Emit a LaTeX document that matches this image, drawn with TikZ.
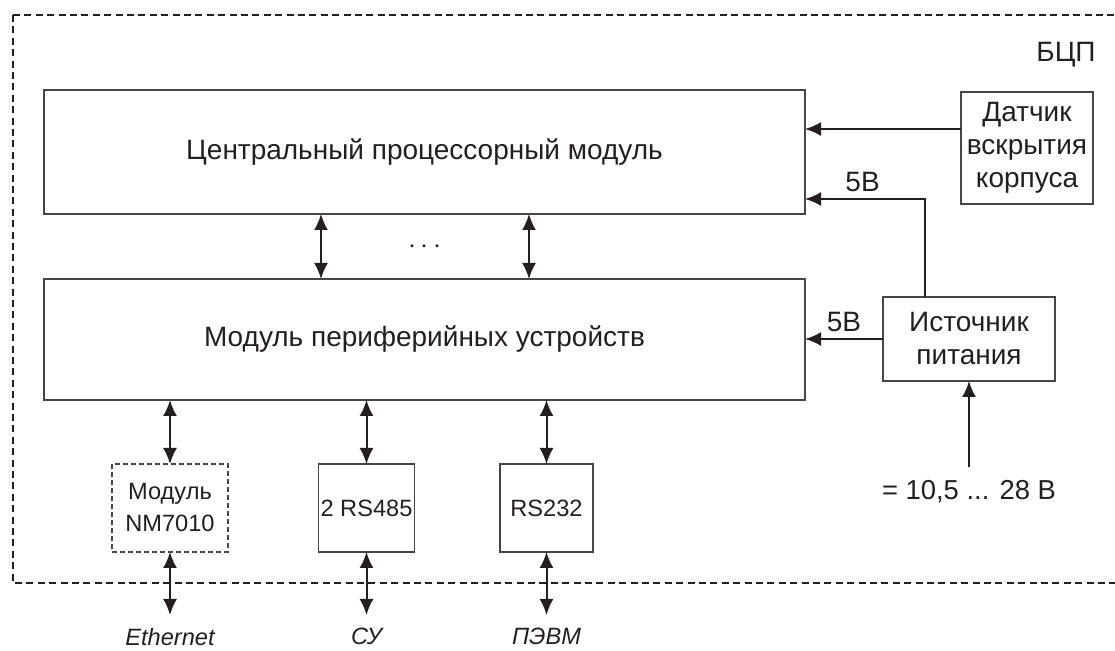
\documentclass[tikz,border=0pt]{standalone}
\usepackage{fontspec}
\setmainfont{Liberation Sans}
\usetikzlibrary{arrows.meta,positioning}
\definecolor{Ink}{RGB}{35,31,32}
\definecolor{Frame}{RGB}{70,70,70}
\newcommand\mainsize{\fontsize{14}{16.5}\selectfont}
\newcommand\portsize{\fontsize{11.8}{16}\selectfont}
\tikzset{
  block/.style={draw=Frame,line width=0.6pt,inner sep=1pt,align=center,outer sep=0pt},
  portblock/.style={block,font=\portsize},
  optblock/.style={portblock,dash pattern=on 2.5pt off 1.5pt},
  flow/.style={-{Latex[length=8pt,width=7pt]},line width=1pt,draw=Ink},
  bus/.style={{Latex[length=8pt,width=7pt]}-{Latex[length=8pt,width=7pt]},line width=1pt,draw=Ink},
  ext/.style={font=\portsize\itshape,inner xsep=0pt,inner ysep=6.5pt},
  border/.style={line width=0.9pt,dash pattern=on 3.5pt off 2.2pt,draw=Ink}
}
\begin{document}
\begin{tikzpicture}[x=0.5pt,y=-0.5pt,font=\mainsize,text=Ink]
\useasboundingbox (0,0) rectangle (1115,651);
\draw[border] (13,15) rectangle (1130,583);
\node (bcp) at (1066,55) {БЦП};
% main modules
\node[block,minimum width=380.5pt,minimum height=62pt] (cpu) at (424.5,152) {Центральный процессорный модуль};
\node[block,minimum width=380.5pt,minimum height=60.5pt] (periph) at (424.5,339.5) {Модуль периферийных устройств};
\node[block,minimum width=66pt,minimum height=56pt] (sensor) at (1027,148) {Датчик\\вскрытия\\корпуса};
\node[block,minimum width=86pt,minimum height=42pt] (power) at (969,339) {Источник\\питания};
\node (dots) at (425,247) {$\cdots$};
% interfaces
\node[optblock,minimum width=58pt,minimum height=44pt] (nm) at (170,508) {Модуль\\NM7010};
\node[portblock,minimum width=46.5pt,minimum height=44pt] (rs485) at (366.5,508) {2 RS485};
\node[portblock,minimum width=46.5pt,minimum height=44pt] (rs232) at (546.5,508) {RS232};
\node[ext,below=31.5pt of nm] (eth) {Ethernet};
\node[ext,below=31.5pt of rs485] (su) {СУ};
\node[ext,below=31.5pt of rs232] (pc) {ПЭВМ};
\node[font=\fontsize{13.7}{16}\selectfont,inner xsep=0pt,inner ysep=6.5pt,below=43pt of power] (vin) {= 10,5 ... 28 В};
% connections
\coordinate (busA) at (321,0);
\coordinate (busB) at (529,0);
\draw[bus] (cpu.south -| busA) -- (periph.north -| busA);
\draw[bus] (cpu.south -| busB) -- (periph.north -| busB);
\foreach \m/\e in {nm/eth,rs485/su,rs232/pc}{
  \draw[bus] (periph.south -| \m) -- (\m.north);
  \draw[bus] (\m.south) -- (\e.north);
}
\draw[flow] ([yshift=9.5pt]sensor.west) -- ([yshift=9.5pt]sensor.west -| cpu.east);
\draw[flow] ([xshift=-22pt]power.north) |- ([yshift=7.5pt]cpu.south east) node[pos=0.76,above]{5В};
\draw[flow] (power.west) -- (power.west -| periph.east) node[midway,above]{5В};
\draw[flow] (vin.north) -- (power.south);
\end{tikzpicture}
\end{document}
